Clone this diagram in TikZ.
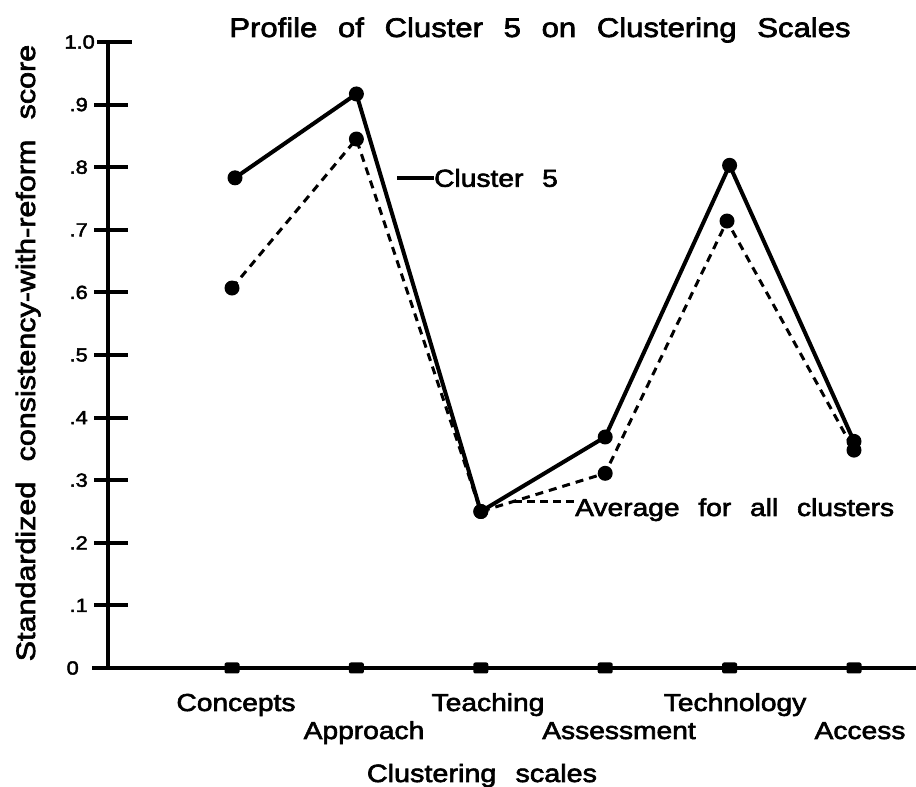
\documentclass[tikz,border=0pt]{standalone}
\usepackage{fontspec}
\setmainfont{Liberation Sans}[FakeStretch=1.15, WordSpace=2.4, FakeBold=2.5]
\usetikzlibrary{positioning}
\tikzstyle{axisline} = [line width=3.5pt]
\tikzstyle{tickline} = [line width=4pt]
\tikzstyle{clusline} = [line width=4pt, line join=round]
\tikzstyle{avgline} = [line width=3pt, dash pattern=on 8pt off 6pt]
\tikzstyle{dot} = [circle, fill, inner sep=0pt, minimum size=15pt]
\tikzstyle{marker} = [rectangle, fill, rounded corners=2pt, inner sep=0pt, minimum width=15pt, minimum height=11pt]
\tikzstyle{lab} = [inner sep=0pt, anchor=base, font=\fontsize{24.5}{29}\selectfont]
\tikzstyle{ticklab} = [inner sep=0pt, anchor=east, font=\fontsize{19}{22}\selectfont]

\begin{document}
\begin{tikzpicture}[x=1pt, y=1pt]
        \useasboundingbox (0,0) rectangle (916,787);
        % axes and ticks
        \draw[axisline] (92,119) -- (916,119);
        \draw[axisline] (108,119) -- (108,745);
        \foreach \v/\t in {1/.1, 2/.2, 3/.3, 4/.4, 5/.5, 6/.6, 7/.7, 8/.8, 9/.9}{
          \draw[tickline] (94,{119+62.6*\v}) -- (128,{119+62.6*\v});
          \node[ticklab] (t\v) at (88,{119+62.6*\v}) {\t};
        }
        \draw[tickline] (97,745) -- (132,745);
        \node[ticklab]                          (t10) at (95,745) {1.0};
        \node[ticklab]                          (t0)  at (79,119) {0};

        % scale markers on the axis
        \foreach \i in {1,...,6}
          \node[marker] (m\i) at ({232+124.4*(\i-1)},119) {};

        \begin{scope}[shift={(0,119)}, y=626pt]
        \node[dot] (c1) at (235,.783)   {};
        \node[dot] (c2) at (356.4,.917) {};
        \node[dot] (c3) at (480.8,.25)  {};
        \node[dot] (c4) at (605.2,.369) {};
        \node[dot] (c5) at (729.6,.803) {};
        \node[dot] (c6) at (854,.362)   {};

        \node[dot] (a1) at (232,.607)   {};
        \node[dot] (a2) at (356.4,.845) {};
        \node[dot] (a3) at (480.8,.25)  {};
        \node[dot] (a4) at (605.2,.311) {};
        \node[dot] (a5) at (727,.714)   {};
        \node[dot] (a6) at (854,.348)   {};
        \end{scope}

        \draw[clusline] (c1.center) -- (c2.center) -- (c3.center) -- (c4.center) -- (c5.center) -- (c6.center);
        \draw[avgline]  (a1.center) -- (a2.center) -- (a3.center) -- (a4.center) -- (a5.center) -- (a6.center);

        % legend labels
        \node[lab, anchor=west]                 (clab) at (434,609) {Cluster 5};
        \coordinate                             (ctip) at (397,609);
        \draw[line width=3.5pt] (ctip) -- (clab.west);
        \node[lab, anchor=base west]            (alab) at (575,271) {Average for all clusters};
        \coordinate                             (atip) at (514,285);
        \draw[line width=3pt, dash pattern=on 8pt off 5pt] (atip) -- (atip -| alab.west);

        % scale names
        \node[lab] (concepts)   at (236,76) {Concepts};
        \node[lab] (approach)   at (364,48) {Approach};
        \node[lab] (teaching)   at (488,76) {Teaching};
        \node[lab] (assessment) at (619,48) {Assessment};
        \node[lab] (technology) at (735,76) {Technology};
        \node[lab] (access)     at (860,48) {Access};

        \node[lab, font=\fontsize{25}{30}\selectfont] (xtitle) at (482,5) {Clustering scales};
        \node[lab, font=\fontsize{27}{32}\selectfont] (title)  at (540,750) {Profile of Cluster 5 on Clustering Scales};
        \node[lab, rotate=90, font=\fontsize{26.5}{31}\selectfont] (ytitle) at (35,434) {Standardized consistency-with-reform score};
      \end{tikzpicture}
\end{document}
